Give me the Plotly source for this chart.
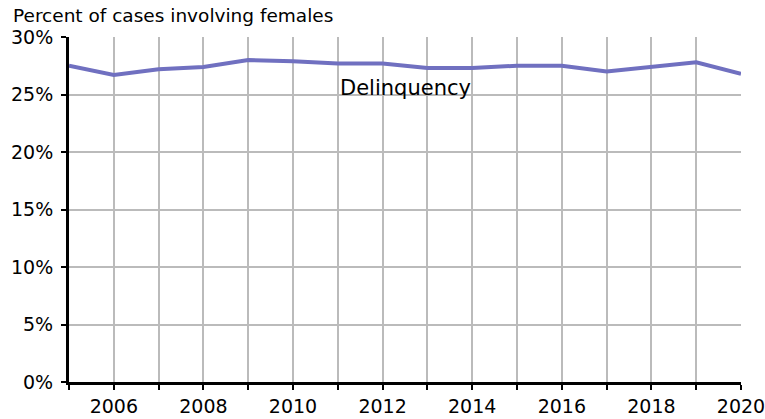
import plotly.graph_objects as go

years = list(range(2005, 2021))
pct_female = [27.5, 26.7, 27.2, 27.4, 28.0, 27.9, 27.7, 27.7, 27.3, 27.3, 27.5, 27.5, 27.0, 27.4, 27.8, 26.8]
series_name = "Delinquency"
y_ticks = [0, 5, 10, 15, 20, 25, 30]
y_tick_labels = ["0%", "5%", "10%", "15%", "20%", "25%", "30%"]
x_tick_labels = [str(y) if y % 2 == 0 else "" for y in years]

FONT = "DejaVu Sans, Liberation Sans, Arial, sans-serif"

fig = go.Figure()
fig.add_trace(go.Scatter(
    x=years, y=pct_female, mode="lines", name=series_name,
    line=dict(color="#7070c0", width=4), hoverinfo="x+y",
))

fig.add_annotation(x=2012.5, y=25.6, text=series_name, showarrow=False,
                   font=dict(family=FONT, size=21, color="#000"),
                   xanchor="center", yanchor="middle")

fig.add_annotation(x=0, y=1, xref="paper", yref="paper", xshift=-58, yshift=22,
                   text="Percent of cases involving females", showarrow=False,
                   xanchor="left", yanchor="middle",
                   font=dict(family=FONT, size=18.5, color="#000"))

axis_common = dict(
    showgrid=True, gridcolor="#bbbbbb", gridwidth=1.5,
    showline=True, linecolor="#000", linewidth=3,
    ticks="outside", ticklen=5, tickcolor="#000", tickwidth=1.5,
    zeroline=False, tickfont=dict(family=FONT, size=19, color="#000"),
    automargin=False, ticklabeloverflow="allow",
)

fig.update_layout(
    width=765, height=419,
    margin=dict(l=69, r=24, t=37, b=37),
    paper_bgcolor="white", plot_bgcolor="white",
    showlegend=False,
    font=dict(family=FONT, size=19, color="#000"),
    xaxis=dict(range=[2005, 2020], tickvals=years, ticktext=x_tick_labels,
               **axis_common),
    yaxis=dict(range=[0, 30], tickvals=y_ticks, ticktext=y_tick_labels,
               ticklabelstandoff=4, **axis_common),
)

fig.write_html("out.html", config={"displayModeBar": False},
               post_script="document.body.style.margin='0';document.body.style.overflow='hidden';")
